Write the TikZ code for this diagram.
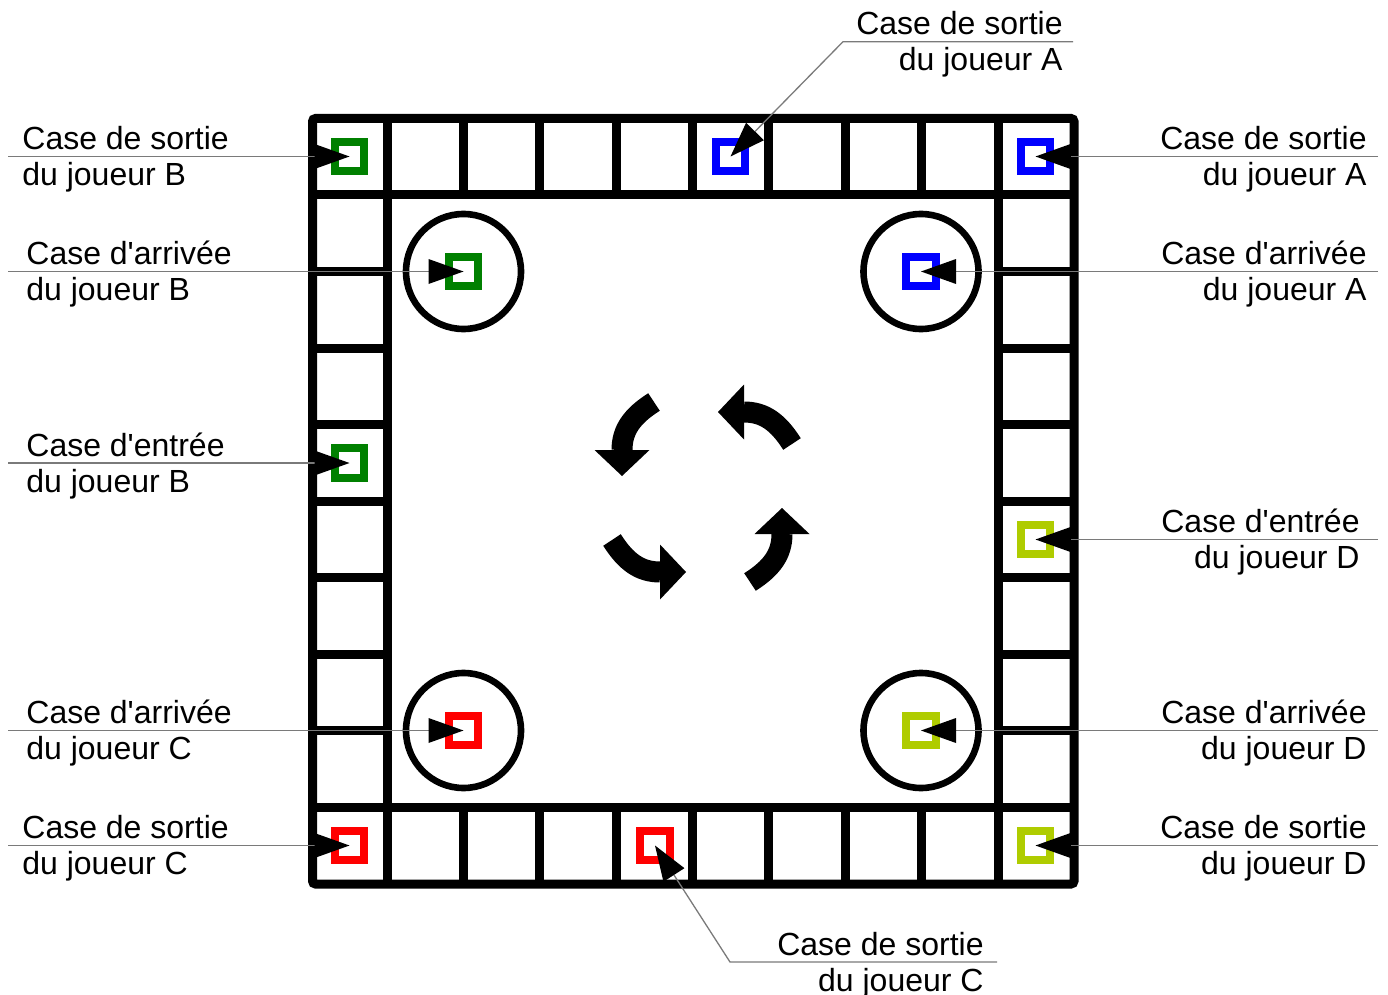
\documentclass[tikz,border=0pt]{standalone}
\usepackage{fontspec}
\setmainfont{Liberation Sans}[Ligatures=TeXOff]
\usetikzlibrary{positioning, arrows.meta}
\definecolor{Dark}{HTML}{000000}
\definecolor{Wire}{HTML}{7A7A7A}
\definecolor{Blue}{HTML}{0000FF}
\definecolor{Green}{HTML}{008000}
\definecolor{Red}{HTML}{FF0000}
\definecolor{Lime}{HTML}{AFCC00}
\tikzset{
    board/.style={line width=4.5pt, draw=Dark},
    casebox/.style={rectangle, draw=#1, line width=4pt, minimum size=14.75pt, inner sep=0pt},
    ring/.style={draw=Dark, line width=3.3pt},
    pointer/.style={draw=Wire, line width=0.65pt, -{Triangle[length=17.5pt, width=12.5pt, color=Dark, line width=0pt]}},
    lblleft/.style={align=left, inner sep=0pt, yshift=-1.5pt, text=Dark, font=\fontsize{16}{18}\selectfont},
    lblright/.style={align=right, inner sep=0pt, yshift=-1.5pt, text=Dark, font=\fontsize{16}{18}\selectfont},
    turn/.style={line width=10.5pt, draw=Dark, -{Triangle[length=13pt, width=27.5pt, line width=0pt]}},
}

\begin{document}
\begin{tikzpicture}[x=0.5pt, y=-0.5pt]
    \useasboundingbox (0,0) rectangle (1388,995);

    % Plateau
    \draw[board, rounded corners=1.5pt] (312.5,118.5) rectangle (1074,884);
    \draw[board] (312.5,195) -- (1074,195) (312.5,807) -- (1074,807)
                 (387,118.5) -- (387,884) (998,118.5) -- (998,884);
    \foreach \k in {1,...,7} {
        \draw[board] (387+\k*76.375,118.5) -- (387+\k*76.375,195)
                     (387+\k*76.375,807) -- (387+\k*76.375,884);
        \draw[board] (312.5,195+\k*76.5) -- (387,195+\k*76.5)
                     (998,195+\k*76.5) -- (1074,195+\k*76.5);
    }

    % Cercles d'arrivee
    \foreach \p in {(463.5,271.5),(921,271.5),(463.5,730.5),(921,730.5)}
        \draw[ring] \p circle[radius=57.5];

    % Cases des joueurs
    \node[casebox=Blue]  (sortieA1) at (730.5,156.5) {};
    \node[casebox=Blue]  (sortieA2) at (1035.5,156.5) {};
    \node[casebox=Blue]  (arriveeA) at (921,271.5) {};
    \node[casebox=Green] (sortieB)  at (349.5,156.5) {};
    \node[casebox=Green] (arriveeB) at (463.5,271.5) {};
    \node[casebox=Green] (entreeB)  at (349.5,463) {};
    \node[casebox=Red]   (sortieC1) at (349.5,845.5) {};
    \node[casebox=Red]   (sortieC2) at (655,845.5) {};
    \node[casebox=Red]   (arriveeC) at (463.5,730.5) {};
    \node[casebox=Lime]  (sortieD)  at (1035.5,845.5) {};
    \node[casebox=Lime]  (arriveeD) at (921,730.5) {};
    \node[casebox=Lime]  (entreeD)  at (1035.5,539.5) {};

    % Sens de rotation
    \foreach \a in {0,90,180,270}
        \draw[turn, shift={(702,492)}, rotate=\a] (-48,-90) .. controls (-70,-76) and (-80,-62) .. (-80,-16);

    % Legendes a gauche
    \coordinate (eSortieB) at (8,156.5);
    \node[lblleft, right=7pt of eSortieB] (tSortieB) {Case de sortie\\du joueur B};
    \draw[pointer] (eSortieB) -- (sortieB.center);

    \coordinate (eArriveeB) at (8,271.5);
    \node[lblleft, right=9pt of eArriveeB] (tArriveeB) {Case d'arrivée\\du joueur B};
    \draw[pointer] (eArriveeB) -- (arriveeB.center);

    \coordinate (eEntreeB) at (8,463);
    \node[lblleft, right=9pt of eEntreeB] (tEntreeB) {Case d'entrée\\du joueur B};
    \draw[pointer] (eEntreeB) -- (entreeB.center);

    \coordinate (eArriveeC) at (8,730.5);
    \node[lblleft, right=9pt of eArriveeC] (tArriveeC) {Case d'arrivée\\du joueur C};
    \draw[pointer] (eArriveeC) -- (arriveeC.center);

    \coordinate (eSortieC1) at (8,845.5);
    \node[lblleft, right=7pt of eSortieC1] (tSortieC1) {Case de sortie\\du joueur C};
    \draw[pointer] (eSortieC1) -- (sortieC1.center);

    % Legendes a droite
    \coordinate (eSortieA2) at (1378,156.5);
    \node[lblright, left=5.5pt of eSortieA2] (tSortieA2) {Case de sortie\\du joueur A};
    \draw[pointer] (eSortieA2) -- (sortieA2.center);

    \coordinate (eArriveeA) at (1378,271.5);
    \node[lblright, left=5.5pt of eArriveeA] (tArriveeA) {Case d'arrivée\\du joueur A};
    \draw[pointer] (eArriveeA) -- (arriveeA.center);

    \coordinate (eEntreeD) at (1378,539.5);
    \node[lblright, left=9pt of eEntreeD] (tEntreeD) {Case d'entrée\\du joueur D};
    \draw[pointer] (eEntreeD) -- (entreeD.center);

    \coordinate (eArriveeD) at (1378,730.5);
    \node[lblright, left=5.5pt of eArriveeD] (tArriveeD) {Case d'arrivée\\du joueur D};
    \draw[pointer] (eArriveeD) -- (arriveeD.center);

    \coordinate (eSortieD) at (1378,845.5);
    \node[lblright, left=5.5pt of eSortieD] (tSortieD) {Case de sortie\\du joueur D};
    \draw[pointer] (eSortieD) -- (sortieD.center);

    % Legendes en haut et en bas
    \coordinate (eSortieA1) at (1073,41.7);
    \coordinate (kSortieA1) at (843,41.7);
    \node[lblright, left=5pt of eSortieA1] (tSortieA1) {Case de sortie\\du joueur A};
    \draw[pointer] (eSortieA1) -- (kSortieA1) -- (sortieA1.center);

    \coordinate (eSortieC2) at (997,962);
    \coordinate (kSortieC2) at (730,962);
    \node[lblright, left=6.5pt of eSortieC2] (tSortieC2) {Case de sortie\\du joueur C};
    \draw[pointer] (eSortieC2) -- (kSortieC2) -- (sortieC2.center);
\end{tikzpicture}
\end{document}
